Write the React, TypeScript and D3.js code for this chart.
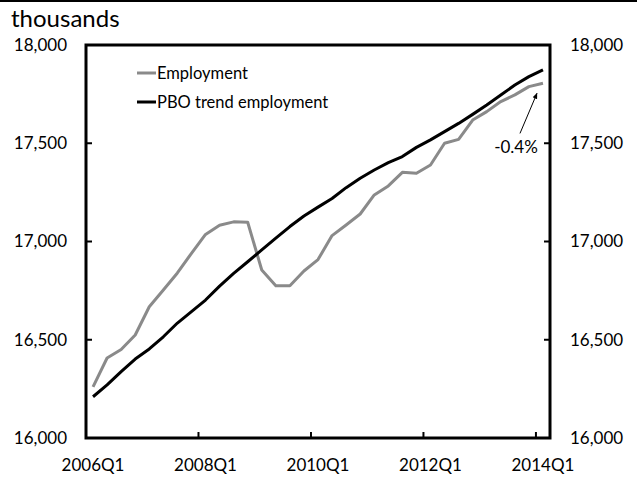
import React from "react";
import * as d3 from "d3";

const quarters = [
  "2006Q1","2006Q2","2006Q3","2006Q4",
  "2007Q1","2007Q2","2007Q3","2007Q4",
  "2008Q1","2008Q2","2008Q3","2008Q4",
  "2009Q1","2009Q2","2009Q3","2009Q4",
  "2010Q1","2010Q2","2010Q3","2010Q4",
  "2011Q1","2011Q2","2011Q3","2011Q4",
  "2012Q1","2012Q2","2012Q3","2012Q4",
  "2013Q1","2013Q2","2013Q3","2013Q4",
  "2014Q1",
];

const employment = [
  16260, 16407, 16450, 16524, 16668, 16753, 16840, 16940,
  17036, 17083, 17100, 17098, 16855, 16775, 16775, 16850,
  16908, 17030, 17084, 17140, 17237, 17283, 17352, 17347,
  17389, 17500, 17520, 17618, 17661, 17712, 17746, 17788,
  17805,
];

const trend = [
  16210, 16270, 16338, 16402, 16453, 16515, 16585, 16643,
  16702, 16773, 16838, 16897, 16957, 17017, 17076, 17130,
  17175, 17219, 17274, 17322, 17364, 17401, 17432, 17479,
  17517, 17559, 17601, 17647, 17695, 17746, 17796, 17839,
  17873,
];

const yTicks = [16000, 16500, 17000, 17500, 18000];
const xLabelQuarters = ["2006Q1", "2008Q1", "2010Q1", "2012Q1", "2014Q1"];
const xTickQuarters = ["2008Q1", "2010Q1", "2012Q1", "2014Q1"];
const seriesNames = ["Employment", "PBO trend employment"];
const gapLabel = "-0.4%";
const unitLabel = "thousands";

const FONT = "Lato, 'Open Sans', sans-serif";

export default function App() {
  const left = 86, right = 550, top = 45, bottom = 438;
  const x = d3.scaleBand<string>().domain(quarters).range([left, right]).padding(0);
  const bw = x.bandwidth();
  const cx = (q: string) => (x(q) as number) + bw / 2;
  const y = d3.scaleLinear().domain([16000, 18000]).range([bottom, top]);
  const fmt = d3.format(",");

  const line = d3
    .line<number>()
    .x((_, i) => cx(quarters[i]))
    .y((d) => y(d));

  const lastQ = quarters[quarters.length - 1];
  const lastX = cx(lastQ);

  return (
    <svg
      width={637}
      height={477}
      style={{ position: "absolute", left: 0, top: 0, background: "#fff" }}
      fontFamily={FONT}
    >
      <rect x={0} y={0} width={637} height={477} fill="#fff" />
      <line x1={0} x2={637} y1={1} y2={1} stroke="#000" strokeWidth={2} />
      <text x={11} y={27} fontSize={24} fill="#000">{unitLabel}</text>

      {/* y ticks & labels */}
      {yTicks.map((t) => (
        <g key={t}>
          <line x1={left} x2={left + 6} y1={y(t)} y2={y(t)} stroke="#000" strokeWidth={2} />
          <line x1={right - 6} x2={right} y1={y(t)} y2={y(t)} stroke="#000" strokeWidth={2} />
          <text x={67} y={y(t)} dy="0.35em" textAnchor="end" fontSize={17} fill="#000">
            {fmt(t)}
          </text>
          <text x={570} y={y(t)} dy="0.35em" textAnchor="start" fontSize={17} fill="#000">
            {fmt(t)}
          </text>
        </g>
      ))}

      {/* x ticks */}
      {xTickQuarters.map((q) => (
        <line
          key={q}
          x1={x(q) as number}
          x2={x(q) as number}
          y1={bottom}
          y2={bottom - 6}
          stroke="#000"
          strokeWidth={2}
        />
      ))}
      {xLabelQuarters.map((q) => (
        <text key={q} x={cx(q)} y={471} textAnchor="middle" fontSize={17} fill="#000">
          {q}
        </text>
      ))}

      {/* series */}
      <path d={line(employment) || ""} fill="none" stroke="#8a8a8a" strokeWidth={3} strokeLinejoin="round" />
      <path d={line(trend) || ""} fill="none" stroke="#000" strokeWidth={3} strokeLinejoin="round" />

      {/* frame */}
      <rect x={left} y={top} width={right - left} height={bottom - top} fill="none" stroke="#000" strokeWidth={3} />

      {/* legend */}
      <line x1={137} x2={156} y1={73} y2={73} stroke="#8a8a8a" strokeWidth={3} />
      <text x={157} y={73} dy="0.35em" fontSize={16.5} fill="#000">{seriesNames[0]}</text>
      <line x1={137} x2={156} y1={102} y2={102} stroke="#000" strokeWidth={3} />
      <text x={157} y={102} dy="0.35em" fontSize={16.5} fill="#000">{seriesNames[1]}</text>

      {/* annotation */}
      <defs>
        <marker id="arr" viewBox="0 0 10 10" refX={9} refY={5} markerWidth={6} markerHeight={6} orient="auto">
          <path d="M0,1 L10,5 L0,9 z" fill="#000" />
        </marker>
      </defs>
      <line
        x1={lastX - 23}
        y1={y(17550)}
        x2={lastX - 6}
        y2={y(employment[employment.length - 1]) + 10}
        stroke="#000"
        strokeWidth={1}
        markerEnd="url(#arr)"
      />
      <text x={516} y={147} dy="0.35em" textAnchor="middle" fontSize={17} fill="#000">
        {gapLabel}
      </text>
    </svg>
  );
}
